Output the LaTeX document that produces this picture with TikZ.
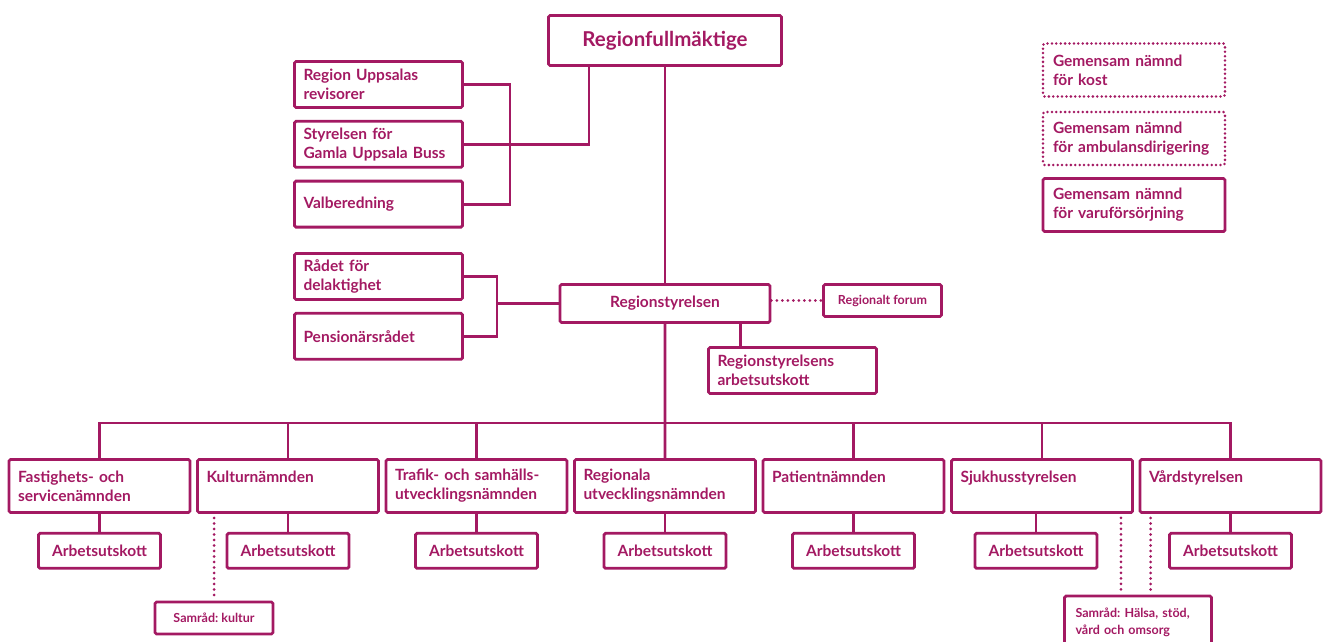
\documentclass[tikz,border=0pt]{standalone}
\usepackage{fontspec}
\setmainfont{Lato}
\usetikzlibrary{positioning,calc}
\definecolor{rsred}{RGB}{163,25,98}
\hyphenpenalty=10000
\frenchspacing
\tikzset{
    box/.style = {draw=rsred, text=rsred, line width=2.8pt, rounded corners=1.5pt,
        align=left, font=\bfseries\fontsize{15.5}{19}\selectfont},
    topbox/.style = {box, align=center, minimum width=233pt, minimum height=50pt,
        font=\bfseries\fontsize{20.5}{24}\selectfont},
    sidebox/.style = {box, minimum height=46pt, minimum width=168pt, text width=150pt, inner xsep=9pt},
    midbox/.style = {box, align=center, minimum width=210pt, minimum height=38pt},
    smallbox/.style = {box, align=center, minimum height=32pt, minimum width=118pt,
        font=\bfseries\fontsize{12.5}{17}\selectfont},
    gembox/.style = {box, minimum height=53pt, minimum width=182pt, text width=162pt, inner xsep=10pt},
    dotbox/.style = {gembox, line width=2.8pt, line cap=round, dash pattern=on 0pt off 4.4pt},
    nbox/.style = {box, minimum height=53pt, minimum width=181pt, text width=163pt, inner xsep=9pt},
    ausbox/.style = {box, align=center, minimum height=35pt, minimum width=122pt},
    line/.style = {draw=rsred, line width=2.8pt},
    dotline/.style = {draw=rsred, line width=3pt, line cap=round, dash pattern=on 0pt off 5.5pt}
}
\begin{document}
\begin{tikzpicture}[x=1pt, y=-1pt]
        \useasboundingbox (0,0) rectangle (1323,641);
        % top
        \node[topbox] (rf) at (665,40.5) {Regionfullmäktige};
        \node[sidebox] (rev) at (378.5,84.5) {Region Uppsalas\\revisorer};
        \node[sidebox, below=11pt of rev] (gub) {Styrelsen för\\Gamla Uppsala Buss};
        \node[sidebox, below=11pt of gub] (valb) {Valberedning};
        \coordinate (kn1) at (510,0);
        \coordinate (kn2) at (589,0);
        \draw[line] (rev.east) -| (kn1 |- valb.east) -- (valb.east);
        \draw[line] (gub.east) -| (kn2 |- rf.south);
        % gemensamma nämnder
        \node[dotbox] (kost) at (1134,70) {Gemensam nämnd\\för kost};
        \node[dotbox] (amb) at (1134,138.5) {Gemensam nämnd\\för ambulansdirigering};
        \node[gembox] (varu) at (1134,205) {Gemensam nämnd\\för varuförsörjning};
        % regionstyrelsen
        \node[midbox] (rs) at (665,303.5) {Regionstyrelsen};
        \draw[line] (rf.south) -- (rs.north);
        \node[sidebox] (rfd) at (378.5,276.5) {Rådet för\\delaktighet};
        \node[sidebox, below=11pt of rfd] (pens) {Pensionärsrådet};
        \coordinate (kn3) at (497,0);
        \draw[line] (rfd.east) -| (kn3 |- pens.east) -- (pens.east);
        \draw[line] (kn3 |- rs.west) -- (rs.west);
        \node[smallbox] (forum) at (882.5,300.5) {Regionalt forum};
        \draw[dotline] (rs.east |- forum.west) -- (forum.west);
        \node[sidebox] (rsau) at (792.5,370.5) {Regionstyrelsens\\arbetsutskott};
        \coordinate (rsdrop) at ([xshift=33pt]rsau.north west);
        \draw[line] (rsdrop) -- (rsdrop |- rs.south);
        % nämnder
        \node[nbox] (fast) at (99.5,486) {Fastighets- och\\servicenämnden};
        \node[nbox, right=4.7pt of fast] (kult) {Kulturnämnden\\\phantom{x}};
        \node[nbox, right=4.7pt of kult] (trafik) {Trafik- och samhälls-\\utvecklingsnämnden};
        \node[nbox, right=4.7pt of trafik] (regu) {Regionala\\utvecklingsnämnden};
        \node[nbox, right=4.7pt of regu] (pat) {Patientnämnden\\\phantom{x}};
        \node[nbox, right=4.7pt of pat] (sjuk) {Sjukhusstyrelsen\\\phantom{x}};
        \node[nbox, right=4.7pt of sjuk] (vard) {Vårdstyrelsen\\\phantom{x}};
        \coordinate (bus) at (665,423);
        \draw[line] (rs.south) -- (regu.north);
        \draw[line] (fast.north) |- (bus) -| (vard.north);
        \draw[line] (kult.north) -- (kult.north |- bus);
        \draw[line] (trafik.north) -- (trafik.north |- bus);
        \draw[line] (pat.north) -- (pat.north |- bus);
        \draw[line] (sjuk.north) -- (sjuk.north |- bus);
        % arbetsutskott
        \node[ausbox, below=18pt of fast] (fastau) {Arbetsutskott};
        \node[ausbox, below=18pt of kult] (kultau) {Arbetsutskott};
        \node[ausbox, below=18pt of trafik] (trafikau) {Arbetsutskott};
        \node[ausbox, below=18pt of regu] (reguau) {Arbetsutskott};
        \node[ausbox, below=18pt of pat] (patau) {Arbetsutskott};
        \node[ausbox, below=18pt of sjuk, xshift=-6pt] (sjukau) {Arbetsutskott};
        \node[ausbox, below=18pt of vard] (vardau) {Arbetsutskott};
        \draw[line] (fast) -- (fastau);
        \draw[line] (kult) -- (kultau);
        \draw[line] (trafik) -- (trafikau);
        \draw[line] (regu) -- (reguau);
        \draw[line] (pat) -- (patau);
        \draw[line] (sjukau.north) -- (sjukau.north |- sjuk.south);
        \draw[line] (vard) -- (vardau);
        % samråd
        \node[smallbox] (samk) at (214,618) {Samråd: kultur};
        \coordinate (kd) at ([xshift=18pt]kult.south west);
        \draw[dotline, shorten >=5pt, shorten <=4pt] (kd) -- (kd |- samk.north);
        \node[smallbox, align=left, minimum width=147pt, minimum height=52pt, text width=125pt,
            inner xsep=11pt] (samh) at (1138,622) {Samråd: Hälsa, stöd,\\vård och omsorg};
        \coordinate (sd1) at ([xshift=-13pt]sjuk.south east);
        \coordinate (sd2) at ([xshift=12pt]vard.south west);
        \draw[dotline, shorten >=5pt, shorten <=4pt] (sd1) -- (sd1 |- samh.north);
        \draw[dotline, shorten >=5pt, shorten <=4pt] (sd2) -- (sd2 |- samh.north);
\end{tikzpicture}
\end{document}
